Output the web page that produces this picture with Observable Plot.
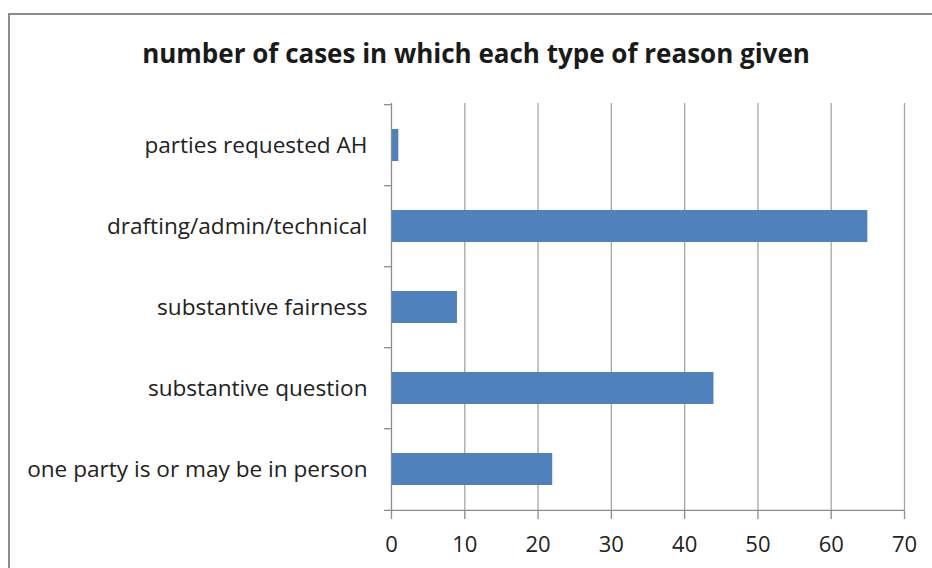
<!DOCTYPE html>
<html>
<head>
<meta charset="utf-8">
<script src="https://cdn.jsdelivr.net/npm/d3@7"></script>
<script src="https://cdn.jsdelivr.net/npm/@observablehq/plot@0.6"></script>
<style>
  html, body { margin: 0; padding: 0; background: #fff; }
  body { width: 932px; height: 568px; position: relative; overflow: hidden; font-family: "Open Sans", sans-serif; }
  #frame { position: absolute; left: 8px; top: 13px; width: 1000px; height: 1000px; border: 2px solid #8c8c8c; box-sizing: border-box; }
  #title { position: absolute; left: 0; top: 35px; width: 952px; text-align: center; font-weight: bold; font-size: 26px; line-height: 36px; color: #1a1a1a; }
  #chart { position: absolute; left: 0; top: 0; }
</style>
</head>
<body>
<div id="frame"></div>
<div id="title">number of cases in which each type of reason given</div>
<div id="chart"></div>
<script>
const categories = [
  "parties requested AH",
  "drafting/admin/technical",
  "substantive fairness",
  "substantive question",
  "one party is or may be in person"
];
const counts = [1, 65, 9, 44, 22];
const xTicks = [0, 10, 20, 30, 40, 50, 60, 70];

const data = categories.map((c, i) => ({reason: c, count: counts[i]}));

const W = 932, H = 568;
const mL = 391, mR = 28, mT = 103, mB = 57;
const padIn = 0.6, padOut = 0.3;
const step = (H - mT - mB) / (categories.length - padIn + 2 * padOut);

const plot = Plot.plot({
  width: W,
  height: H,
  marginLeft: mL,
  marginRight: mR,
  marginTop: mT,
  marginBottom: mB,
  style: {fontFamily: "'Open Sans', sans-serif", fontSize: "22px", color: "#333", background: "transparent"},
  x: {domain: [0, 70], ticks: xTicks},
  y: {domain: categories, paddingInner: padIn, paddingOuter: padOut},
  marks: [
    Plot.gridX(xTicks.slice(1), {stroke: "#a6a6a6", strokeOpacity: 1, strokeWidth: 1.3}),
    Plot.barX(data, {x: "count", y: "reason", fill: "#4f81bd"}),
    Plot.ruleX([0], {stroke: "#8c8c8c", strokeWidth: 1.3}),
    Plot.ruleY(categories, {y: d => d, x1: 0, x2: 0, insetLeft: -7, dy: -step / 2, stroke: "#8c8c8c", strokeWidth: 1.3}),
    Plot.ruleY([categories[categories.length - 1]], {y: d => d, x1: 0, x2: 70, insetLeft: -7, dy: step / 2, stroke: "#8c8c8c", strokeWidth: 1.3}),
    Plot.axisX({ticks: xTicks, tickSize: 8, tickPadding: 17, stroke: "#8c8c8c", strokeWidth: 1.3, fill: "#222", fontSize: 22, label: null}),
    Plot.axisY({tickSize: 0, tickPadding: 24, fill: "#222", fontSize: 22.6, label: null})
  ]
});
document.getElementById("chart").appendChild(plot);
</script>
</body>
</html>
